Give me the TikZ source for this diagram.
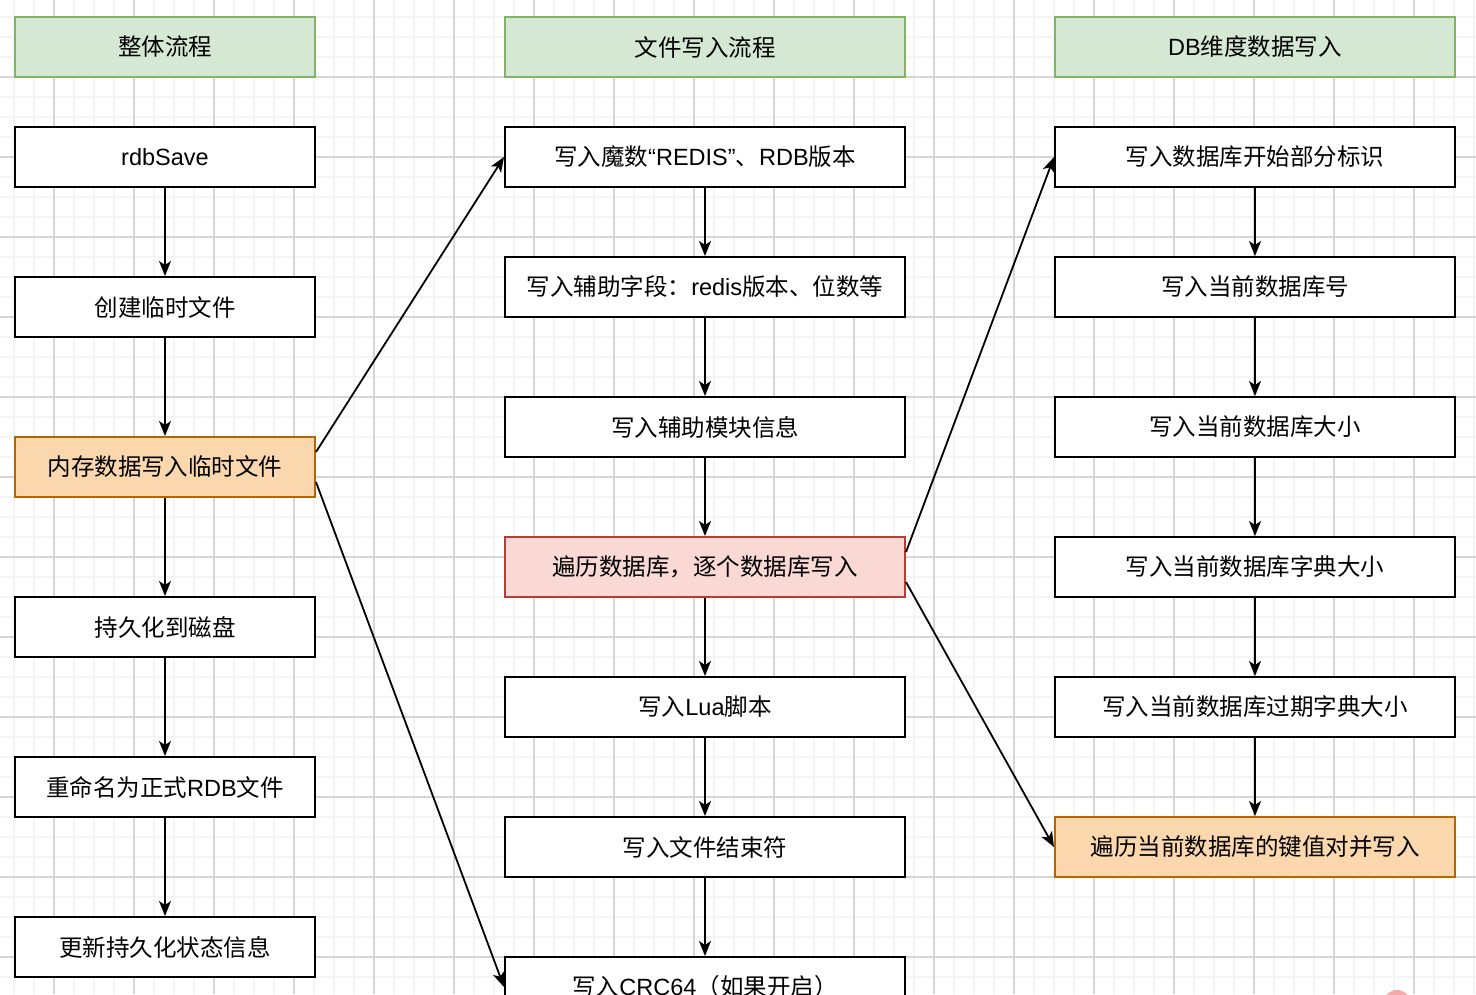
\documentclass[tikz,border=0pt]{standalone}
\usepackage{fontspec}
\setmainfont{Noto Sans CJK SC}
\newfontfamily\latfont{Liberation Sans}
\newcommand{\la}[1]{{\latfont #1}}
\usetikzlibrary{arrows.meta}
\definecolor{gfill}{HTML}{D5E8D4}
\definecolor{gline}{HTML}{82B366}
\definecolor{ofill}{HTML}{FAD7AC}
\definecolor{oline}{HTML}{B46504}
\definecolor{rfill}{HTML}{FAD9D5}
\definecolor{rline}{HTML}{AE4132}
\definecolor{minorc}{HTML}{F4F4F4}
\definecolor{majorc}{HTML}{D6D6D6}
\definecolor{dotc}{HTML}{F7A8A8}
\begin{document}
\begin{tikzpicture}[x=1pt,y=-1pt,
  box/.style={draw=black, line width=2pt, fill=white, inner sep=0pt,
    minimum height=60pt, font=\fontsize{23.5}{27}\selectfont},
  narrow/.style={minimum width=300pt},
  wide/.style={minimum width=400pt},
  head/.style={fill=gfill, draw=gline},
  orange/.style={fill=ofill, draw=oline},
  red/.style={fill=rfill, draw=rline},
  arr/.style={line width=1.8pt, -{Stealth[length=15pt,width=12pt,inset=4pt]}},
  minorl/.style={minorc, line width=1.5pt},
  majorl/.style={majorc, line width=1.2pt}]
\clip (0,0) rectangle (1476,994);
\useasboundingbox (0,0) rectangle (1476,994);
\fill[white] (0,0) rectangle (1476,994);
\foreach \x in {14,34,...,1474} \draw[minorl] (\x,0) -- (\x,994);
\foreach \y in {-3,17,...,993} \draw[minorl] (0,\y) -- (1476,\y);
\foreach \x in {54,134,...,1414} \draw[majorl] (\x,0) -- (\x,994);
\foreach \y in {77,157,...,957} \draw[majorl] (0,\y) -- (1476,\y);

% column 1
\node[box,narrow,head] (h1) at (165,47) {整体流程};
\node[box,narrow] (a1) at (165,157) {\la{rdbSave}};
\node[box,narrow] (a2) at (165,307) {创建临时文件};
\node[box,narrow,orange] (a3) at (165,467) {内存数据写入临时文件};
\node[box,narrow] (a4) at (165,627) {持久化到磁盘};
\node[box,narrow] (a5) at (165,787) {重命名为正式\la{RDB}文件};
\node[box,narrow] (a6) at (165,947) {更新持久化状态信息};

% column 2
\node[box,wide,head] (h2) at (705,47) {文件写入流程};
\node[box,wide] (b1) at (705,157) {写入魔数\la{“REDIS”}、\la{RDB}版本};
\node[box,wide] (b2) at (705,287) {写入辅助字段：\la{redis}版本、位数等};
\node[box,wide] (b3) at (705,427) {写入辅助模块信息};
\node[box,wide,red] (b4) at (705,567) {遍历数据库，逐个数据库写入};
\node[box,wide] (b5) at (705,707) {写入\la{Lua}脚本};
\node[box,wide] (b6) at (705,847) {写入文件结束符};
\node[box,wide] (b7) at (705,987) {写入\la{CRC64}（如果开启）};

% column 3
\node[box,wide,head] (h3) at (1255,47) {\la{DB}维度数据写入};
\node[box,wide] (c1) at (1255,157) {写入数据库开始部分标识};
\node[box,wide] (c2) at (1255,287) {写入当前数据库号};
\node[box,wide] (c3) at (1255,427) {写入当前数据库大小};
\node[box,wide] (c4) at (1255,567) {写入当前数据库字典大小};
\node[box,wide] (c5) at (1255,707) {写入当前数据库过期字典大小};
\node[box,wide,orange] (c6) at (1255,847) {遍历当前数据库的键值对并写入};

\draw[arr] (a1) -- (a2);
\draw[arr] (a2) -- (a3);
\draw[arr] (a3) -- (a4);
\draw[arr] (a4) -- (a5);
\draw[arr] (a5) -- (a6);

\draw[arr] (b1) -- (b2);
\draw[arr] (b2) -- (b3);
\draw[arr] (b3) -- (b4);
\draw[arr] (b4) -- (b5);
\draw[arr] (b5) -- (b6);
\draw[arr] (b6) -- (b7);

\draw[arr] (c1) -- (c2);
\draw[arr] (c2) -- (c3);
\draw[arr] (c3) -- (c4);
\draw[arr] (c4) -- (c5);
\draw[arr] (c5) -- (c6);

\coordinate (a3u) at (a3.north east |- 0,452);
\coordinate (a3d) at (a3.north east |- 0,482);
\coordinate (b4u) at (b4.north east |- 0,552);
\coordinate (b4d) at (b4.north east |- 0,582);
\draw[arr] (a3u) -- (b1.west);
\draw[arr] (a3d) -- (b7.west);
\draw[arr] (b4u) -- (c1.west);
\draw[arr] (b4d) -- (c6.west);

\fill[dotc] (1397,1004) circle (14);
\end{tikzpicture}
\end{document}
